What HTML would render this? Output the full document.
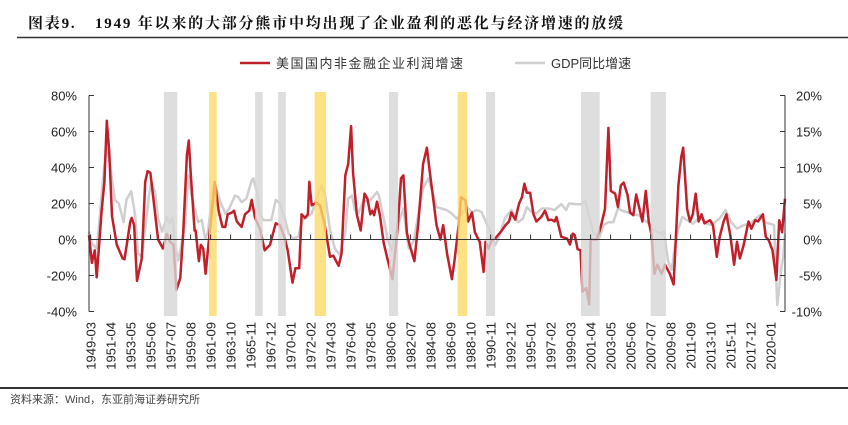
<!DOCTYPE html>
<html><head><meta charset="utf-8"><style>
body{margin:0;background:#fff;}
svg{display:block;font-family:"Liberation Sans","Noto Sans CJK SC",sans-serif;}
</style></head><body>
<svg id="chart" width="848" height="425" viewBox="0 0 848 425">
<text x="28" y="28" font-size="15" font-weight="bold" font-family="'Liberation Serif','Noto Serif CJK SC',serif" fill="#111" letter-spacing="1.8">图表9.<tspan x="95">1949 年以来的大部分熊市中均出现了企业盈利的恶化与经济增速的放缓</tspan></text>
<line x1="17" y1="37.5" x2="848" y2="37.5" stroke="#333" stroke-width="1.5"/>
<g>
<line x1="240" y1="63" x2="270" y2="63" stroke="#c0202a" stroke-width="2.5"/>
<text x="276" y="68" font-size="13" fill="#333" letter-spacing="1.5">美国国内非金融企业利润增速</text>
<line x1="515" y1="63" x2="545" y2="63" stroke="#cfcfcf" stroke-width="2.5"/>
<text x="551" y="68" font-size="13" fill="#333">GDP同比增速</text>
</g>
<g id="lines"></g>
<g id="bands"></g>
<g id="axes"></g>
<line x1="0" y1="388" x2="848" y2="388" stroke="#333" stroke-width="2"/>
<text x="10" y="403" font-size="11" fill="#444">资料来源：Wind，东亚前海证券研究所</text>
</svg>
<script>
const profitYears=[1949.0,1949.3,1949.6,1949.8,1950.3,1950.6,1950.85,1951.1,1951.4,1951.9,1952.5,1952.7,1953.3,1953.45,1953.7,1954.0,1954.5,1954.85,1955.1,1955.4,1956.2,1956.7,1957.1,1957.4,1957.8,1958.1,1958.5,1958.8,1959.2,1959.4,1959.6,1960.0,1960.1,1960.45,1960.65,1960.9,1961.15,1961.6,1962.1,1962.5,1962.9,1963.2,1963.45,1963.9,1964.1,1964.4,1964.9,1965.25,1965.7,1965.95,1966.3,1966.8,1967.3,1967.85,1968.45,1968.9,1969.4,1969.7,1970.2,1970.5,1970.9,1971.15,1971.5,1971.8,1971.95,1972.2,1972.7,1973.05,1973.5,1974.1,1974.45,1975.0,1975.3,1975.7,1976.0,1976.3,1976.5,1976.9,1977.3,1977.7,1978.0,1978.3,1978.5,1978.7,1979.0,1979.3,1979.7,1980.1,1980.6,1981.15,1981.5,1981.75,1982.1,1982.4,1982.9,1983.3,1983.8,1984.2,1984.5,1984.9,1985.2,1985.6,1985.9,1986.3,1986.8,1987.1,1987.5,1987.75,1988.2,1988.5,1988.9,1989.2,1989.7,1990.1,1990.3,1990.6,1990.95,1991.3,1991.6,1992.0,1992.4,1992.75,1993.0,1993.4,1993.8,1994.1,1994.35,1994.6,1994.95,1995.3,1995.6,1996.1,1996.5,1996.85,1997.2,1997.5,1997.7,1998.2,1998.8,1999.1,1999.4,1999.6,1999.9,2000.2,2000.4,2000.8,2001.1,2001.25,2001.9,2002.3,2002.75,2003.1,2003.35,2003.8,2004.1,2004.4,2004.7,2005.1,2005.35,2005.7,2006.0,2006.3,2006.65,2007.0,2007.3,2007.6,2007.9,2008.2,2008.65,2009.0,2009.5,2009.9,2010.4,2010.7,2010.9,2011.3,2011.6,2011.9,2012.2,2012.5,2012.8,2013.1,2013.7,2014.0,2014.4,2014.7,2015.1,2015.4,2015.8,2016.2,2016.5,2016.8,2017.2,2017.7,2018.0,2018.4,2018.7,2019.0,2019.2,2019.5,2019.8,2020.2,2020.6,2020.9,2021.2,2021.5];
const profitValues=[2.4,-13,-6,-21,15,32,66,49,13,-3,-10.5,-11,10,12,8,-23,-10.5,32,38,37,0,-5,3,-1,-3,-28,-21.6,2.4,47,55,36,5,5,-12,-3,-5,-19,6,32,16,7,7,14,15,16,10,7,14,16,22,12,6,-6,-3,9,8,0.5,-6,-24,-16,-16,14,12,14,32,19,20.5,19,10,-9.6,-9,-14.6,-8,35.6,42,63,37.5,14,5,25.5,22.7,14,16,13.5,21,13.5,-2,-11,-22,6,34,35.6,4,-3,-12,9,42,51,37.5,21,8,0,8,-8,-22,-10.5,8,23.6,21.8,10,15,4,-1.3,-18,-1.3,-5,-0.4,0.5,2.4,5,8,10,15,11,20,23.6,31,26,26,14,10,12.5,16,10.7,11,10,12.5,1.5,0.5,-2.8,3.3,2.4,-5.4,-6,-29,-27,-36,0,0,7,17,62,27,25.5,18,30,31.6,24.6,15,13.5,25,18,10,27,10,2.4,-19,-14,-19,-14,-19,-25,30,46,51,17,10,14,25.5,10,14,9,10.7,8,-9.6,1.5,10,14,2.4,-14,-1.3,-10.5,-3,10,6,10.7,10,12.5,14,1.5,-0.4,-6,-22.5,10.7,4,22.7];
const gdpYears=[1949.0,1949.3,1949.8,1950.1,1950.5,1950.85,1951.2,1951.7,1952.1,1952.6,1952.9,1953.4,1953.8,1954.1,1954.5,1954.85,1955.25,1955.5,1955.9,1956.2,1956.6,1957.1,1957.4,1957.7,1957.95,1958.3,1958.65,1959.0,1959.35,1959.7,1960.0,1960.4,1960.75,1961.1,1961.4,1961.95,1962.2,1962.6,1963.2,1963.6,1964.2,1964.55,1964.9,1965.4,1965.95,1966.1,1966.5,1966.8,1967.15,1968.0,1968.45,1968.9,1969.4,1969.8,1970.3,1970.8,1971.2,1971.7,1972.2,1972.7,1973.2,1973.6,1974.1,1974.6,1975.15,1975.7,1976.0,1976.4,1976.7,1977.05,1977.6,1978.1,1978.45,1979.0,1979.2,1979.7,1980.1,1980.5,1981.05,1981.75,1982.3,1982.8,1983.3,1983.8,1984.35,1984.9,1985.2,1985.7,1986.25,1986.8,1987.3,1987.8,1988.35,1988.9,1989.4,1989.9,1990.25,1990.8,1991.3,1991.8,1992.3,1993.0,1993.7,1994.2,1994.6,1995.1,1995.6,1996.15,1996.85,1997.5,1998.2,1998.7,1999.0,1999.8,2000.3,2000.7,2001.0,2001.5,2002.1,2002.6,2003.1,2003.6,2004.1,2004.7,2005.1,2005.7,2006.2,2006.7,2007.3,2007.6,2008.1,2008.65,2008.9,2009.3,2009.7,2010.0,2010.4,2010.8,2011.3,2011.9,2012.5,2013.0,2013.3,2013.9,2014.2,2014.7,2015.3,2015.9,2016.5,2017.2,2017.9,2018.9,2019.4,2019.9,2020.35,2020.7,2021.1,2021.3,2021.5];
const gdpValues=[1.1,-0.55,-1.25,2.9,8.9,13.3,10.3,5.5,5,2.4,5.5,6.7,3.4,-1.9,-2.4,1.5,6.1,8,6.6,2.9,1.1,3.1,2.2,3,-0.8,-2.9,-0.55,2,8.9,6.1,4.3,2.4,2.7,0.1,1.1,7.5,7.3,5.5,3.6,4.3,6.1,5.9,5.2,5.7,8.2,8.5,6.6,3.6,2.7,2.7,5.5,5,2.9,0.8,0.1,0.4,2.7,3.1,3.6,5.7,7.5,6.1,1.3,-1.25,-2.2,1.1,5.7,6.1,4.1,3.6,5.5,5.2,5.7,6.6,6.1,2.9,0.1,-1.5,1.5,4.3,-1.25,-0.3,3.4,7.1,8.5,6.1,4.5,4.3,4.1,3.6,2.9,3.6,4.5,3.8,4.1,3.8,2.7,1.1,-0.8,0.6,2.9,4.1,2.4,2.9,4.5,3.8,3.6,4.3,4.3,4.1,4.9,4.1,5,4.9,4.9,5.3,3.8,1.1,0.1,2,2.4,2.4,4.3,3.9,3.8,3.4,3.4,2.9,2.2,1.5,1.1,0.8,1.1,-2.9,-4.25,-1.25,1.5,3.1,2.7,2.2,2.9,2.7,2.2,2,2.4,2.9,4.1,2.4,1.5,2,2.2,3.4,2.4,2.2,2,-9.1,-4,-2.6,0.8];
const grayBandStart=[1956.8,1966.3,1968.7,1980.25,1990.35,2000.25,2007.5];
const grayBandEnd=[1958.2,1967.1,1969.5,1981.2,1991.3,2002.2,2009.1];
const yellowBandStart=[1961.5,1972.5,1987.4];
const yellowBandEnd=[1962.3,1973.7,1988.4];
const leftTicks=[-40,-20,0,20,40,60,80];
const rightTicks=[-10,-5,0,5,10,15,20];
const xLabels=['1949-03','1951-04','1953-05','1955-06','1957-07','1959-08','1961-09','1963-10','1965-11','1967-12','1970-01','1972-02','1974-03','1976-04','1978-05','1980-06','1982-07','1984-08','1986-09','1988-10','1990-11','1992-12','1995-01','1997-02','1999-03','2001-04','2003-05','2005-06','2007-07','2009-08','2011-09','2013-10','2015-11','2017-12','2020-01'];

const NS='http://www.w3.org/2000/svg';
const X0=89,PXY=9.6,Y0=239.5,PXL=36/20,PXR=36/5;
const xs=y=>X0+(y-1949)*PXY;
const yl=v=>Y0-v*PXL;
const yr=v=>Y0-v*PXR;
function mk(tag,attrs,parent){const e=document.createElementNS(NS,tag);for(const k in attrs)e.setAttribute(k,attrs[k]);parent.appendChild(e);return e;}
const lines=document.getElementById('lines'),bands=document.getElementById('bands'),axes=document.getElementById('axes');

let d='';gdpYears.forEach((y,i)=>{d+=(i?'L':'M')+xs(y).toFixed(1)+','+yr(gdpValues[i]).toFixed(1);});
const g=mk('path',{d:d,fill:'none',stroke:'#cfcfcf','stroke-width':2.5,'stroke-linejoin':'round'},lines);


d='';profitYears.forEach((y,i)=>{d+=(i?'L':'M')+xs(y).toFixed(1)+','+yl(profitValues[i]).toFixed(1);});
const p=mk('path',{d:d,fill:'none',stroke:'#c0202a','stroke-width':2.5,'stroke-linejoin':'round'},lines);



grayBandStart.forEach((s,i)=>{const r=mk('rect',{x:xs(s),y:92,width:xs(grayBandEnd[i])-xs(s),height:224,fill:'#d6d6d6','fill-opacity':0.8},bands);

});
yellowBandStart.forEach((s,i)=>{const r=mk('rect',{x:xs(s),y:92,width:xs(yellowBandEnd[i])-xs(s),height:224,fill:'#ffd966','fill-opacity':0.8},bands);

});

mk('line',{x1:X0,y1:yl(80),x2:X0,y2:yl(-40),stroke:'#333','stroke-width':1},axes);
mk('line',{x1:785,y1:yr(20),x2:785,y2:yr(-10),stroke:'#333','stroke-width':1},axes);
mk('line',{x1:X0,y1:Y0,x2:785,y2:Y0,stroke:'#333','stroke-width':1},axes);
leftTicks.forEach(v=>{mk('line',{x1:X0,y1:yl(v),x2:X0+5,y2:yl(v),stroke:'#333'},axes);
const t=mk('text',{x:77,y:yl(v)+5,'text-anchor':'end','font-size':13,fill:'#222'},axes);t.textContent=v+'%';

});
rightTicks.forEach(v=>{mk('line',{x1:780,y1:yr(v),x2:785,y2:yr(v),stroke:'#333'},axes);
const t=mk('text',{x:822,y:yr(v)+5,'text-anchor':'end','font-size':13,fill:'#222'},axes);t.textContent=v+'%';

});
xLabels.forEach(l=>{const yy=+l.slice(0,4)+(+l.slice(5)-1)/12;const x=xs(yy);
mk('line',{x1:x,y1:Y0,x2:x,y2:Y0-5,stroke:'#333'},axes);
const t=mk('text',{x:0,y:0,'text-anchor':'end','font-size':13,fill:'#222',transform:'translate('+(x+5)+',322) rotate(-90)'},axes);t.textContent=l;

});
</script>
</body></html>
